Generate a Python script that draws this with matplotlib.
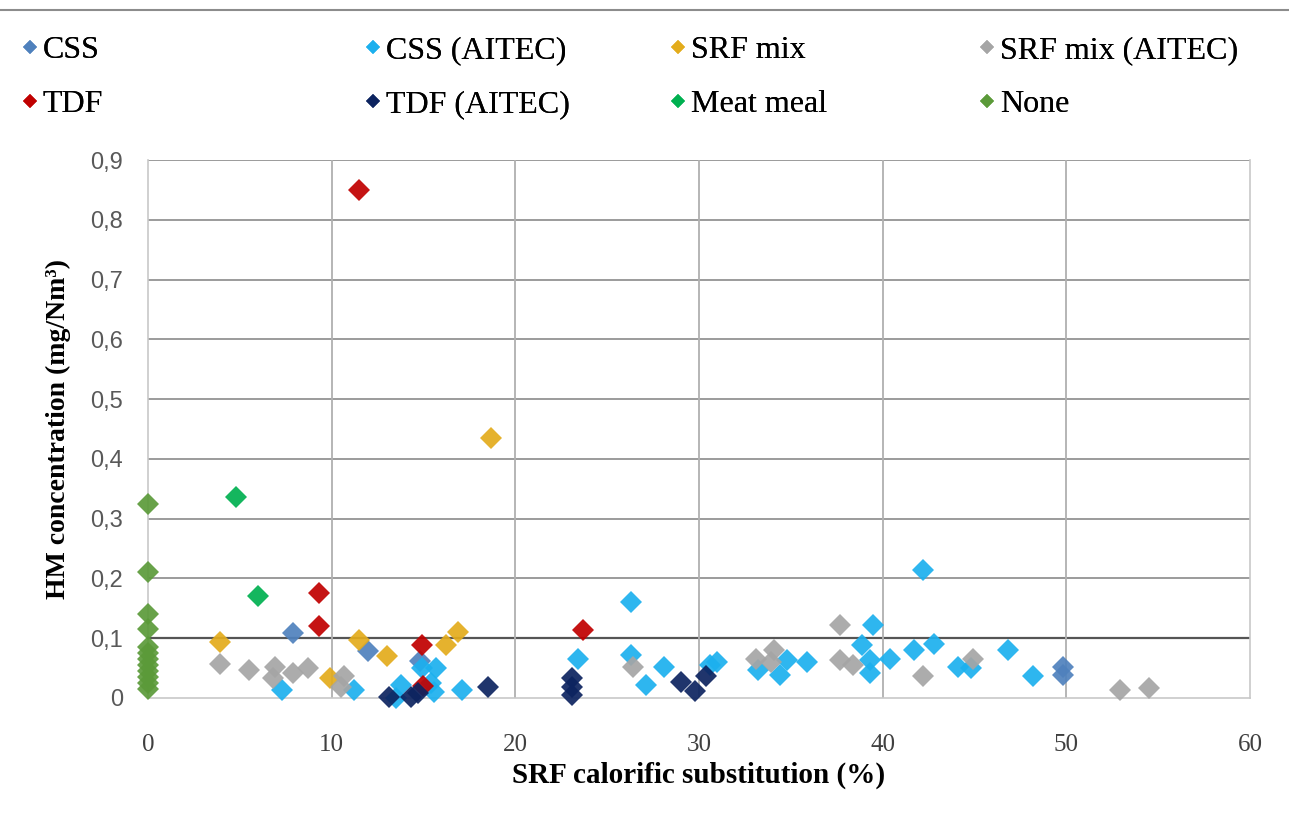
import matplotlib
matplotlib.use('Agg')
from matplotlib import pyplot as plt
from matplotlib.lines import Line2D

# data (x: SRF substitution %, y: mg/Nm3)
css_x = [7.9, 12.0, 14.8, 49.8, 49.8]
css_y = [0.108, 0.078, 0.062, 0.052, 0.038]

css_aitec_x = [7.3, 11.2, 13.5, 13.8, 14.9, 15.4, 15.6, 15.7, 17.1, 23.4,
               26.3, 26.3, 27.1, 28.1, 30.6, 31.0, 33.2, 34.4, 34.8, 35.9,
               38.9, 39.3, 39.3, 39.5, 40.4, 41.7, 42.2, 42.8, 44.1, 44.8,
               46.8, 48.2]
css_aitec_y = [0.013, 0.013, 0.0, 0.022, 0.05, 0.025, 0.01, 0.05, 0.013, 0.066,
               0.161, 0.072, 0.022, 0.052, 0.055, 0.061, 0.047, 0.038, 0.064, 0.061,
               0.089, 0.064, 0.041, 0.122, 0.066, 0.08, 0.214, 0.091, 0.052, 0.05,
               0.08, 0.036]

srf_x = [3.9, 9.9, 11.5, 13.0, 16.2, 16.9, 18.7]
srf_y = [0.094, 0.033, 0.097, 0.07, 0.089, 0.11, 0.435]

srf_aitec_x = [3.9, 5.5, 6.8, 6.9, 7.9, 8.7, 10.5, 10.7, 26.4, 33.1,
               33.9, 34.1, 37.7, 37.7, 38.4, 42.2, 44.9, 52.9, 54.5]
srf_aitec_y = [0.057, 0.047, 0.033, 0.052, 0.041, 0.051, 0.019, 0.036, 0.052, 0.066,
               0.061, 0.08, 0.122, 0.064, 0.055, 0.036, 0.066, 0.013, 0.016]

tdf_x = [9.3, 9.3, 11.5, 14.9, 15.0, 23.7]
tdf_y = [0.176, 0.121, 0.85, 0.089, 0.02, 0.114]

tdf_aitec_x = [13.1, 14.3, 14.7, 18.5, 23.1, 23.1, 23.1, 29.0, 29.8, 30.4]
tdf_aitec_y = [0.002, 0.002, 0.008, 0.019, 0.033, 0.019, 0.005, 0.027, 0.011, 0.036]

meat_x = [4.8, 6.0]
meat_y = [0.336, 0.171]

none_x = [0] * 12
none_y = [0.325, 0.21, 0.14, 0.115, 0.085, 0.075, 0.065, 0.055, 0.045, 0.035, 0.025, 0.015]

series = [
    ('CSS', css_x, css_y, '#4f81bd'),
    ('CSS (AITEC)', css_aitec_x, css_aitec_y, '#1cb0ee'),
    ('SRF mix', srf_x, srf_y, '#e3ac1c'),
    ('SRF mix (AITEC)', srf_aitec_x, srf_aitec_y, '#a5a5a5'),
    ('TDF', tdf_x, tdf_y, '#c00000'),
    ('TDF (AITEC)', tdf_aitec_x, tdf_aitec_y, '#0d2460'),
    ('Meat meal', meat_x, meat_y, '#00b050'),
    ('None', none_x, none_y, '#5b9a39'),
]

fig = plt.figure(figsize=(12.89, 8.27), dpi=100)
ax = fig.add_axes([0.1148, 0.156, 0.8549, 0.6505])

# gridlines
for v in [0.2, 0.3, 0.4, 0.5, 0.6, 0.7, 0.8, 0.9]:
    ax.axhline(v, color='#8a8a8a', lw=1.2, zorder=1)
ax.axhline(0.1, color='#555555', lw=1.6, zorder=1)
for v in [10, 20, 30, 40, 50]:
    ax.axvline(v, color='#b0b0b0', lw=1.3, zorder=1)

handles = []
for name, xs, ys, c in series:
    ax.plot(xs, ys, linestyle='None', marker='D', markersize=11,
            color=c, markeredgewidth=0, alpha=0.92, zorder=3, clip_on=False)
    handles.append(Line2D([], [], linestyle='None', marker='D', markersize=7,
                          color=c, markeredgewidth=0, label=name))

ax.set_xlim(0, 60)
ax.set_ylim(0, 0.9)
ax.set_xticks(range(0, 61, 10))
ax.set_yticks([i / 10 for i in range(10)])
ax.set_yticklabels(['0'] + ['0,%d' % i for i in range(1, 10)],
                   fontsize=17, color='#595959', family='Liberation Sans')
ax.set_xticklabels([str(v) for v in range(0, 61, 10)],
                   fontsize=18, color='#404040', family='Liberation Serif')
ax.tick_params(axis='y', length=0, pad=18)
ax.tick_params(axis='x', length=0, pad=26)
ax.spines['top'].set_visible(False)
for s in ['left', 'right', 'bottom']:
    ax.spines[s].set_color('#c8c8c8')
    ax.spines[s].set_linewidth(1.2)

ax.set_xlabel('SRF calorific substitution (%)', fontsize=21, fontweight='bold',
              family='Liberation Serif', labelpad=4)
ax.set_ylabel('HM concentration (mg/Nm³)', fontsize=20, fontweight='bold',
              family='Liberation Serif', labelpad=14)

# legend: four columns, two rows, placed like the original
col_x = [22, 365, 670, 979]
for i, x in enumerate(col_x):
    leg = fig.legend(handles=[handles[i], handles[i + 4]], loc='upper left',
                     bbox_to_anchor=(x / 1289, 0.957), frameon=False,
                     prop={'family': 'Liberation Serif', 'size': 23},
                     handletextpad=0.15, handlelength=0.5, labelspacing=0.78,
                     borderaxespad=0.0, borderpad=0.0)
    fig.add_artist(leg)

# thin frame line at the top of the picture
fig.add_artist(Line2D([0.0, 1.0], [0.988, 0.988], color='#8c8c8c', lw=1.5,
                      transform=fig.transFigure))

plt.savefig('out.png', dpi=100)
